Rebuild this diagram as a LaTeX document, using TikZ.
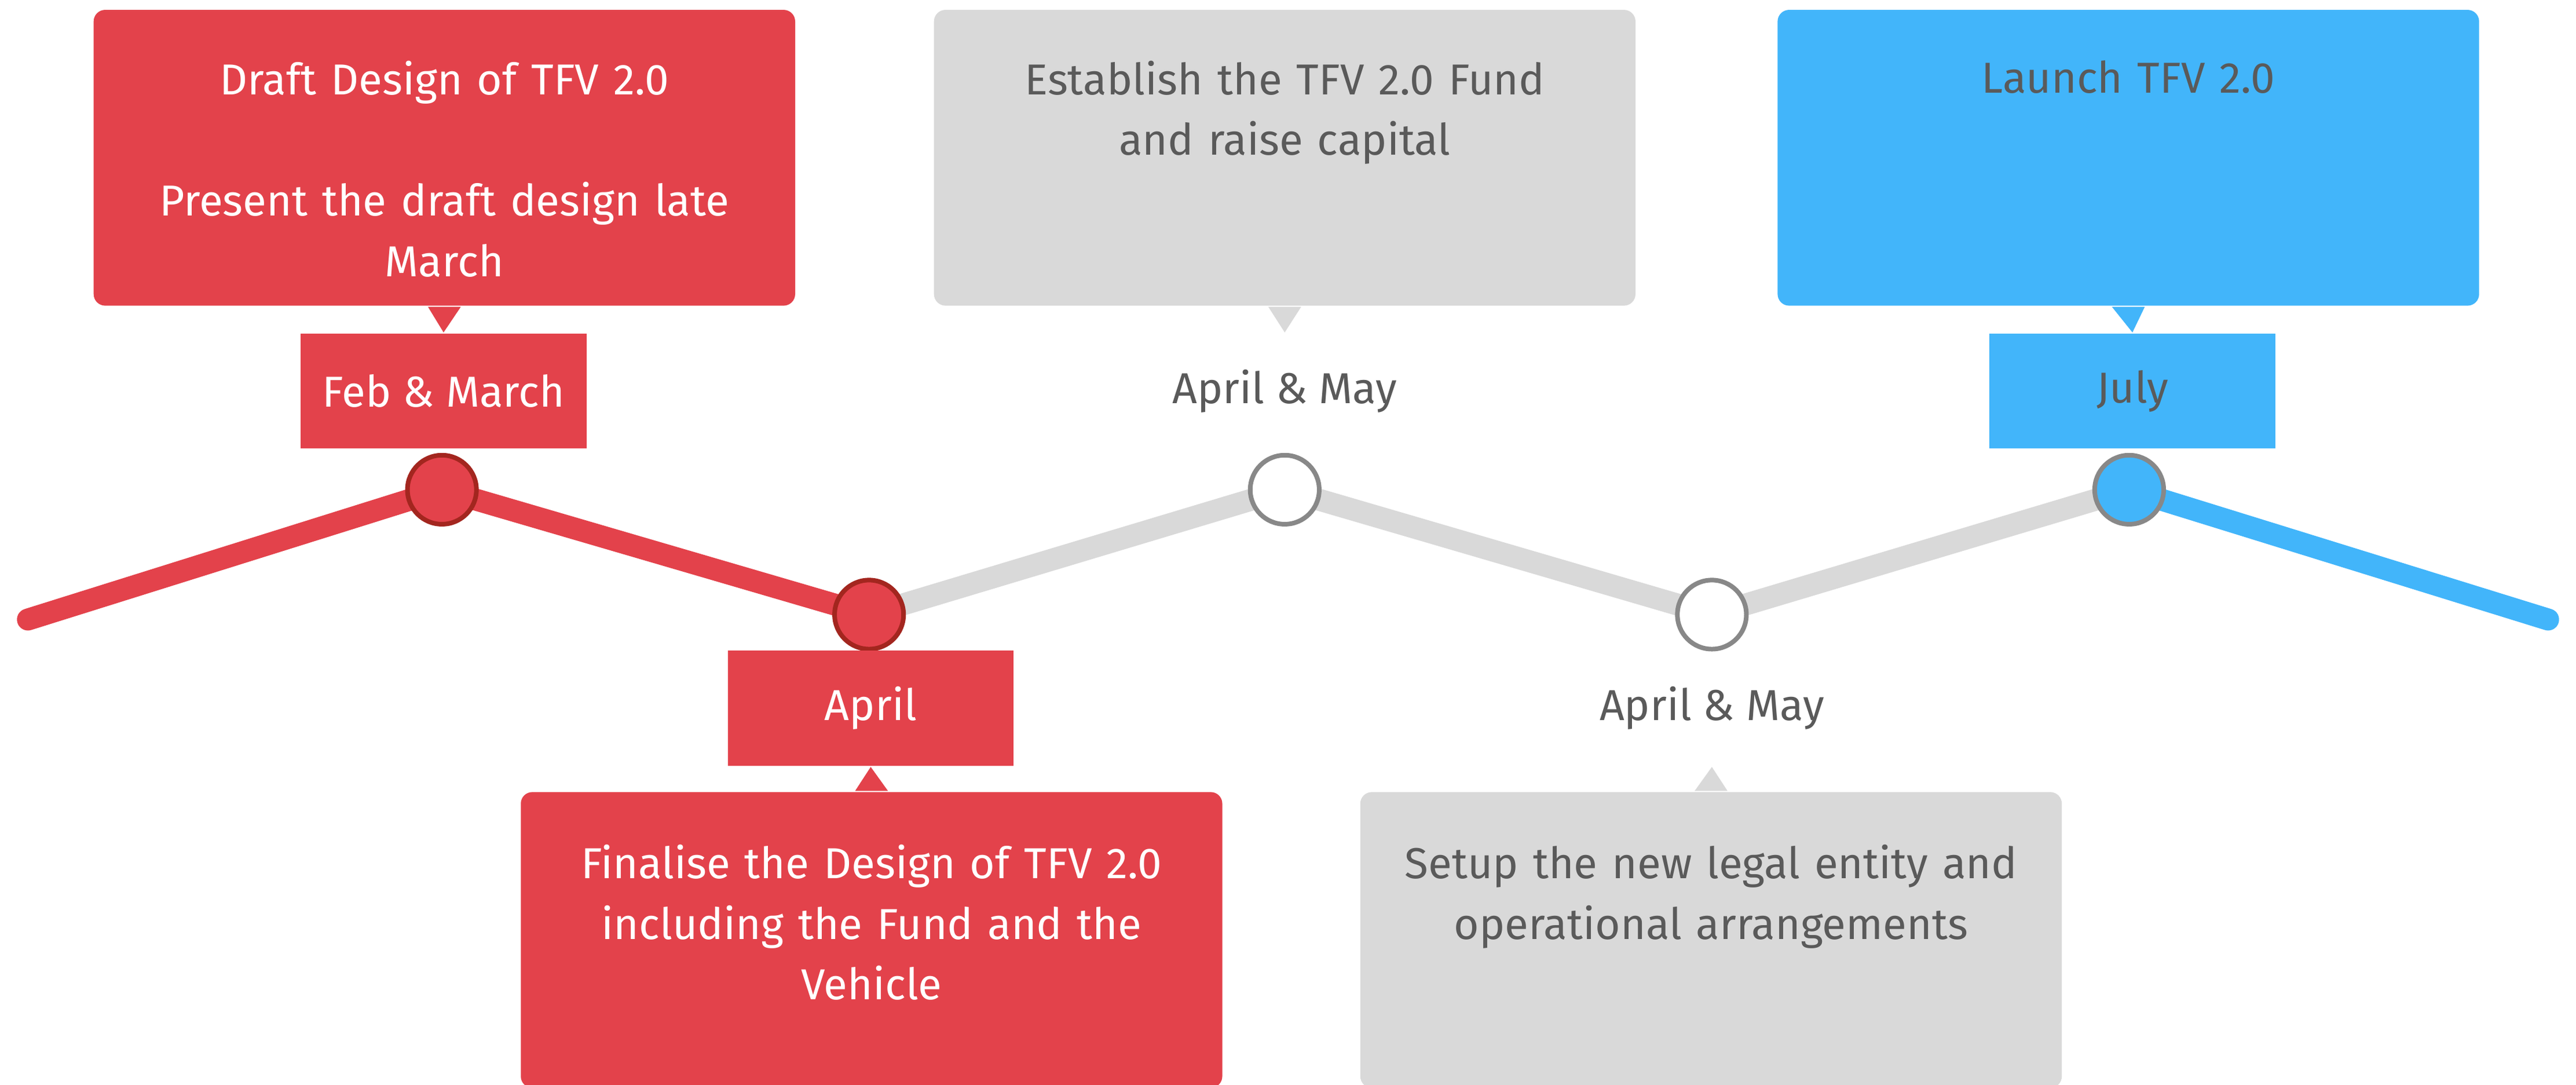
\documentclass[tikz,border=0pt]{standalone}
\usepackage{fontspec}
\setmainfont{Fira Sans}
\usetikzlibrary{positioning}
\definecolor{tfvred}{HTML}{E3424B}
\definecolor{tfvdarkred}{HTML}{A3261F}
\definecolor{tfvgray}{HTML}{D9D9D9}
\definecolor{tfvtext}{HTML}{5A5A5A}
\definecolor{tfvblue}{HTML}{42B5FA}
\definecolor{tfvring}{HTML}{888888}
\begin{document}
\begin{tikzpicture}[
	card/.style={rounded corners=2pt, minimum width=4.27cm, minimum height=1.8cm, inner sep=0pt},
	tag/.style={minimum width=1.74cm, minimum height=0.7cm, inner sep=0pt, font=\fontsize{7.5}{10.5}\selectfont},
	cardtext/.style={text width=4.1cm, align=center, inner sep=0pt, font=\fontsize{7.5}{10.5}\selectfont},
	track/.style={line width=3.8pt, line cap=round, line join=round},
	milestone/.style={circle, minimum size=0.42cm, inner sep=0pt, line width=0.8pt}]
	\clip (0, 0) rectangle (15.68, 6.60);

	% timeline
	\coordinate (start) at (0.17, 2.83);
	\coordinate (p1) at (2.69, 3.62);
	\coordinate (p2) at (5.29, 2.86);
	\coordinate (p3) at (7.82, 3.62);
	\coordinate (p4) at (10.42, 2.86);
	\coordinate (p5) at (12.96, 3.62);
	\coordinate (end) at (15.51, 2.83);

	\draw[track, tfvgray] (p2) -- (p3) -- (p4) -- (p5);
	\draw[track, tfvred] (start) -- (p1) -- (p2);
	\draw[track, tfvblue] (p5) -- (end);

	\node[milestone, fill=tfvred, draw=tfvdarkred] (m1) at (p1) {};
	\node[milestone, fill=tfvred, draw=tfvdarkred] (m2) at (p2) {};
	\node[milestone, fill=white, draw=tfvring] (m3) at (p3) {};
	\node[milestone, fill=white, draw=tfvring] (m4) at (p4) {};
	\node[milestone, fill=tfvblue, draw=tfvring] (m5) at (p5) {};

	% cards
	\node[card, fill=tfvred] (draft) at (2.705, 5.64) {};
	\node[card, fill=tfvgray] (fund) at (7.82, 5.64) {};
	\node[card, fill=tfvblue] (launch) at (12.955, 5.64) {};
	\node[card, fill=tfvred] (finalise) at (5.305, 0.88) {};
	\node[card, fill=tfvgray] (setup) at (10.415, 0.88) {};

	\node[tag, fill=tfvred, text=white] (febmarch) at (2.70, 4.22) {Feb \& March};
	\node[tag, text=tfvtext] (aprilmay) at (7.82, 4.22) {April \& May};
	\node[tag, fill=tfvblue, text=tfvtext] (july) at (12.98, 4.22) {July};
	\node[tag, fill=tfvred, text=white] (april) at (5.30, 2.29) {April};
	\node[tag, text=tfvtext] (aprilmaytwo) at (10.42, 2.29) {April \& May};

	\fill[tfvred] ([xshift=-0.1cm]draft.south) -- ([xshift=0.1cm]draft.south) -- (febmarch.north) -- cycle;
	\fill[tfvgray] ([xshift=-0.1cm]fund.south) -- ([xshift=0.1cm]fund.south) -- (aprilmay.north) -- cycle;
	\fill[tfvblue] ([xshift=-0.1cm]launch.south) -- ([xshift=0.1cm]launch.south) -- (july.north) -- cycle;
	\fill[tfvred] ([xshift=-0.1cm]finalise.north) -- ([xshift=0.1cm]finalise.north) -- (april.south) -- cycle;
	\fill[tfvgray] ([xshift=-0.1cm]setup.north) -- ([xshift=0.1cm]setup.north) -- (aprilmaytwo.south) -- cycle;

	\node[cardtext, text=white, below=0.31cm of draft.north] (drafttext) {Draft Design of TFV 2.0\\[10.5pt]Present the draft design late\\March};
	\node[cardtext, text=tfvtext, below=0.31cm of fund.north] (fundtext) {Establish the TFV 2.0 Fund\\and raise capital};
	\node[cardtext, text=tfvtext, below=0.31cm of launch.north] (launchtext) {Launch TFV 2.0};
	\node[cardtext, text=white, below=0.32cm of finalise.north] (finalisetext) {Finalise the Design of TFV 2.0\\including the Fund and the\\Vehicle};
	\node[cardtext, text=tfvtext, below=0.32cm of setup.north] (setuptext) {Setup the new legal entity and\\operational arrangements};
\end{tikzpicture}
\end{document}
